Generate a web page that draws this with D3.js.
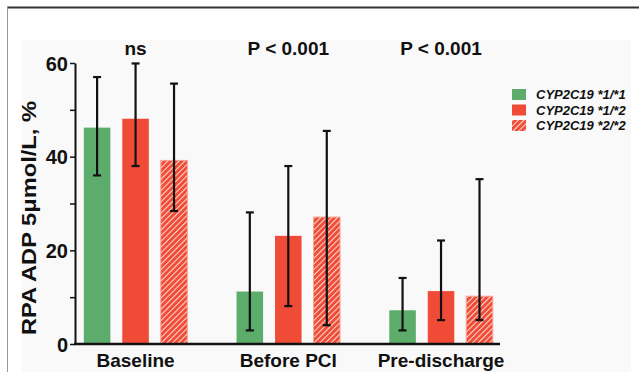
<!DOCTYPE html>
<html>
<head>
<meta charset="utf-8">
<script src="https://cdn.jsdelivr.net/npm/d3@7"></script>
<style>
  html, body { margin: 0; padding: 0; background: #fff; }
  svg { display: block; font-family: "Liberation Sans", Arial, sans-serif; }
</style>
</head>
<body>
<div id="chart"></div>
<script>
const groups = ['Baseline', 'Before PCI', 'Pre-discharge'];
const pLabels = ['ns', 'P < 0.001', 'P < 0.001'];
const series = ['CYP2C19 *1/*1', 'CYP2C19 *1/*2', 'CYP2C19 *2/*2'];
// mean values per series, one entry per group
const means = [
  [46.2, 11.2, 7.2],
  [48.1, 23.1, 11.3],
  [39.2, 27.1, 10.2]
];
const errHigh = [
  [57.0, 28.1, 14.1],
  [59.9, 38.0, 22.1],
  [55.6, 45.5, 35.2]
];
const errLow = [
  [36.0, 2.9, 2.9],
  [38.0, 8.1, 5.1],
  [28.4, 4.0, 5.1]
];
const majorTicks = [0, 20, 40, 60];
const minorTicks = [10, 30, 50];

const W = 639, H = 372;
const green = '#5cac6c', red = '#f04b37';

const svg = d3.select('#chart').append('svg')
  .attr('width', W).attr('height', H);

// pattern for the *2/*2 bars
const defs = svg.append('defs');
const pat = defs.append('pattern')
  .attr('id', 'hatch')
  .attr('patternUnits', 'userSpaceOnUse')
  .attr('width', 4).attr('height', 4)
  .attr('patternTransform', 'rotate(45)');
pat.append('rect').attr('width', 4).attr('height', 4).attr('fill', red);
pat.append('line')
  .attr('x1', 0.5).attr('y1', 0).attr('x2', 0.5).attr('y2', 4)
  .attr('stroke', '#fcd6ce').attr('stroke-width', 1.1);

// frame + faint plot background
svg.append('rect').attr('x', 22).attr('y', 40).attr('width', 609).attr('height', 332)
  .attr('fill', '#f9f9f9');
svg.append('line').attr('x1', 7).attr('x2', W).attr('y1', 7.5).attr('y2', 7.5)
  .attr('stroke', '#333').attr('stroke-width', 2);
svg.append('line').attr('x1', 7.5).attr('x2', 7.5).attr('y1', 7).attr('y2', H)
  .attr('stroke', '#999').attr('stroke-width', 1);

const y = d3.scaleLinear().domain([0, 60]).range([344, 63]);

const x0 = d3.scaleBand().domain(groups).range([59.2, 517.4]).padding(0);
const x1 = d3.scaleBand().domain(d3.range(series.length))
  .range([0, x0.bandwidth()])
  .paddingInner(0.31).paddingOuter(0.64);

const fills = [green, red, 'url(#hatch)'];

// bars
series.forEach((s, si) => {
  const g = svg.append('g');
  g.selectAll('rect')
    .data(groups)
    .join('rect')
      .attr('x', d => x0(d) + x1(si))
      .attr('y', (d, gi) => y(means[si][gi]))
      .attr('width', x1.bandwidth())
      .attr('height', (d, gi) => y(0) - y(means[si][gi]))
      .attr('fill', fills[si])
      .attr('stroke', si === 2 ? '#f6a394' : 'none')
      .attr('stroke-width', 1);
});

// error bars
series.forEach((s, si) => {
  const g = svg.append('g').attr('stroke', '#111').attr('stroke-width', 2.2);
  groups.forEach((grp, gi) => {
    const cx = x0(grp) + x1(si) + x1.bandwidth() / 2;
    const hi = y(errHigh[si][gi]), lo = y(errLow[si][gi]);
    g.append('line').attr('x1', cx).attr('x2', cx).attr('y1', hi).attr('y2', lo);
    g.append('line').attr('x1', cx - 4).attr('x2', cx + 4).attr('y1', hi).attr('y2', hi);
    g.append('line').attr('x1', cx - 4).attr('x2', cx + 4).attr('y1', lo).attr('y2', lo);
  });
});

// y axis
const yAxis = svg.append('g').attr('transform', 'translate(75,0)')
  .call(d3.axisLeft(y).tickValues(majorTicks).tickSize(5).tickSizeOuter(0).tickPadding(2));
svg.append('g').attr('transform', 'translate(75,0)')
  .call(d3.axisLeft(y).tickValues(minorTicks).tickSize(5).tickFormat(''))
  .call(g => g.select('.domain').remove());
svg.selectAll('.tick line').attr('stroke', '#111').attr('stroke-width', 1.5);
yAxis.select('.domain').attr('stroke', '#111').attr('stroke-width', 2);
yAxis.selectAll('text')
  .attr('fill', '#111').style('font-size', '20px').style('font-weight', 'bold')
  .attr('dy', '0.36em');

// x axis line + labels
svg.append('line').attr('x1', 74).attr('x2', 500).attr('y1', y(0)).attr('y2', y(0))
  .attr('stroke', '#111').attr('stroke-width', 2.5);
const xAxis = svg.append('g').attr('transform', `translate(0,${y(0)})`)
  .call(d3.axisBottom(x0).tickSize(0).tickPadding(0));
xAxis.select('.domain').remove();
xAxis.selectAll('text')
  .attr('fill', '#111').attr('dy', null).attr('y', 23)
  .style('font-size', '19px').style('font-weight', 'bold');

// p values over groups
svg.append('g').selectAll('text')
  .data(groups)
  .join('text')
    .attr('x', d => x0(d) + x0.bandwidth() / 2)
    .attr('y', 55)
    .attr('text-anchor', 'middle')
    .attr('fill', '#111')
    .style('font-size', '19px').style('font-weight', 'bold')
    .text((d, i) => pLabels[i]);

// y label
svg.append('text')
  .attr('transform', 'translate(36,218) rotate(-90)')
  .attr('text-anchor', 'middle')
  .attr('fill', '#111')
  .attr('textLength', 234)
  .attr('lengthAdjust', 'spacingAndGlyphs')
  .style('font-size', '20px').style('font-weight', 'bold')
  .text('RPA ADP 5μmol/L, %');

// legend
const legend = svg.append('g').attr('transform', 'translate(512,89)');
series.forEach((s, i) => {
  const row = legend.append('g').attr('transform', `translate(0,${i * 15.5})`);
  row.append('rect').attr('width', 14).attr('height', 11).attr('fill', fills[i]);
  row.append('text')
    .attr('x', 24).attr('y', 10)
    .attr('fill', '#111')
    .style('font-size', '13px').style('font-weight', 'bold').style('font-style', 'italic')
    .text(s);
});
</script>
</body>
</html>
